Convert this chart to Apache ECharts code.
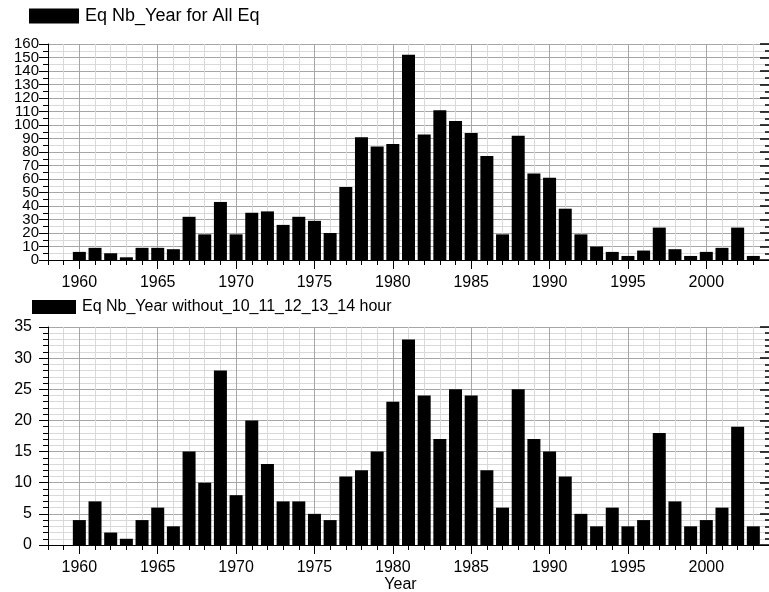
<!DOCTYPE html>
<html>
<head>
<meta charset="utf-8">
<script src="https://cdn.jsdelivr.net/npm/echarts@6/dist/echarts.min.js"></script>
<style>html,body{margin:0;padding:0;background:#fff}#c{width:769px;height:592px}</style>
</head>
<body>
<div id="c"></div>
<script>
const years = [1960,1961,1962,1963,1964,1965,1966,1967,1968,1969,1970,1971,1972,1973,1974,1975,1976,1977,1978,1979,1980,1981,1982,1983,1984,1985,1986,1987,1988,1989,1990,1991,1992,1993,1994,1995,1996,1997,1998,1999,2000,2001,2002,2003];
const allEq = [6,9,5,2,9,9,8,32,19,43,19,35,36,26,32,29,20,54,91,84,86,152,93,111,103,94,77,19,92,64,61,38,19,10,6,3,7,24,8,3,6,9,24,3];
const withoutEq = [4,7,2,1,4,6,3,15,10,28,8,20,13,7,7,5,4,11,12,15,23,33,24,17,25,24,12,6,25,17,15,11,5,3,6,3,4,18,7,3,4,6,19,3];
const xTickLabels = [1960,1965,1970,1975,1980,1985,1990,1995,2000];
const yTopLabelsEven = [0,20,40,60,80,100,120,140,160];
const yTopLabelsOdd = [10,30,50,70,90,110,130,150];
const nameAll = 'Eq Nb_Year for All Eq';
const nameWithout = 'Eq Nb_Year without_10_11_12_13_14 hour';
const xTitle = 'Year';

const FONT = 'Liberation Sans, Arial, Helvetica, sans-serif';
const MAJ = '#a6a6a6', MIN = '#d9d9d9';

function xMinor(grid) {
  return {type:'value', gridIndex:grid, position:'bottom', min:1958, max:2004, interval:1,
    axisLine:{show:true, onZero:false, lineStyle:{color:'#000', width:1}},
    axisTick:{show:true, length:5, lineStyle:{color:'#000'}},
    axisLabel:{show:false},
    splitLine:{show:true, lineStyle:{color:MIN, width:1}}};
}
function xMajor(grid, name) {
  return {type:'value', gridIndex:grid, position:'bottom', offset:0, min:1958, max:2004, interval:1,
    name: name || '', nameLocation:'middle', nameGap:32,
    nameTextStyle:{fontFamily:FONT, fontSize:16, color:'#000', padding:[0,16,0,0]},
    axisLine:{show:false, onZero:false},
    axisTick:{show:true, length:9, customValues:xTickLabels, lineStyle:{color:'#000'}},
    axisLabel:{show:true, customValues:xTickLabels, margin:15, fontFamily:FONT, fontSize:16, color:'#000',
      formatter:(v)=>String(v)},
    splitLine:{show:true, lineStyle:{color:MAJ, width:1}}};
}
function yLeft(grid, max, interval, split, margin, fs, showLabels) {
  return {type:'value', gridIndex:grid, position:'left', min:0, max:max, interval:interval,
    axisLine:{show:true, onZero:false, lineStyle:{color:'#000', width:1}},
    axisTick:{show:true, length:9, lineStyle:{color:'#000'}},
    minorTick:{show:true, splitNumber:split, length:5, lineStyle:{color:'#000'}},
    axisLabel:{show:showLabels, margin:margin, fontFamily:FONT, fontSize:fs, color:'#000',
      showMinLabel:true, showMaxLabel:true, hideOverlap:false},
    splitLine:{show:true, lineStyle:{color:MAJ, width:1}},
    minorSplitLine:{show:true, lineStyle:{color:MIN, width:1}}};
}
function yLabelsOnly(grid, max, values, margin, fs) {
  return {type:'value', gridIndex:grid, position:'left', offset:0, min:0, max:max, interval:10,
    axisLine:{show:false}, axisTick:{show:false}, splitLine:{show:false},
    axisLabel:{show:true, customValues:values, margin:margin, fontFamily:FONT, fontSize:fs, color:'#000',
      showMinLabel:true, showMaxLabel:true, hideOverlap:false}};
}
function yRight(grid, max, interval, split) {
  return {type:'value', gridIndex:grid, position:'right', min:0, max:max, interval:interval,
    axisLine:{show:false},
    axisTick:{show:true, inside:true, length:9, lineStyle:{color:'#000', width:1.5}},
    minorTick:{show:true, splitNumber:split, length:4, lineStyle:{color:'#000', width:1.5}},
    axisLabel:{show:false},
    splitLine:{show:false}};
}

const chart = echarts.init(document.getElementById('c'), null, {renderer:'canvas'});
chart.setOption({
  animation:false,
  backgroundColor:'#fff',
  textStyle:{fontFamily:FONT},
  legend:[
    {left:29, top:7, padding:0, itemWidth:50, itemHeight:15, itemGap:10, icon:'rect',
     data:[nameAll], textStyle:{fontFamily:FONT, fontSize:18, color:'#000', padding:[0,0,0,1]}},
    {left:32, top:299, padding:0, itemWidth:44, itemHeight:14, icon:'rect',
     data:[nameWithout], textStyle:{fontFamily:FONT, fontSize:16, color:'#000', padding:[0,0,0,1]}}
  ],
  grid:[
    {left:48, right:0, top:44, bottom:332, containLabel:false, outerBoundsMode:'none'},
    {left:48, right:0, top:327, bottom:47, containLabel:false, outerBoundsMode:'none'}
  ],
  xAxis:[xMinor(0), xMajor(0), xMinor(1), xMajor(1, xTitle)],
  yAxis:[
    yLeft(0,160,10,2,9,15,false), yRight(0,160,10,2),
    yLeft(1,35,5,5,16,16,true), yRight(1,35,5,5),
    yLabelsOnly(0,160,yTopLabelsEven,9,15), yLabelsOnly(0,160,yTopLabelsOdd,9,15)
  ],
  series:[
    {name:nameAll, type:'bar', xAxisIndex:0, yAxisIndex:0, barWidth:13,
     itemStyle:{color:'#000'}, data:years.map((y,i)=>[y, allEq[i]])},
    {name:nameWithout, type:'bar', xAxisIndex:2, yAxisIndex:2, barWidth:13,
     itemStyle:{color:'#000'}, data:years.map((y,i)=>[y, withoutEq[i]])}
  ]
});
</script>
</body>
</html>
